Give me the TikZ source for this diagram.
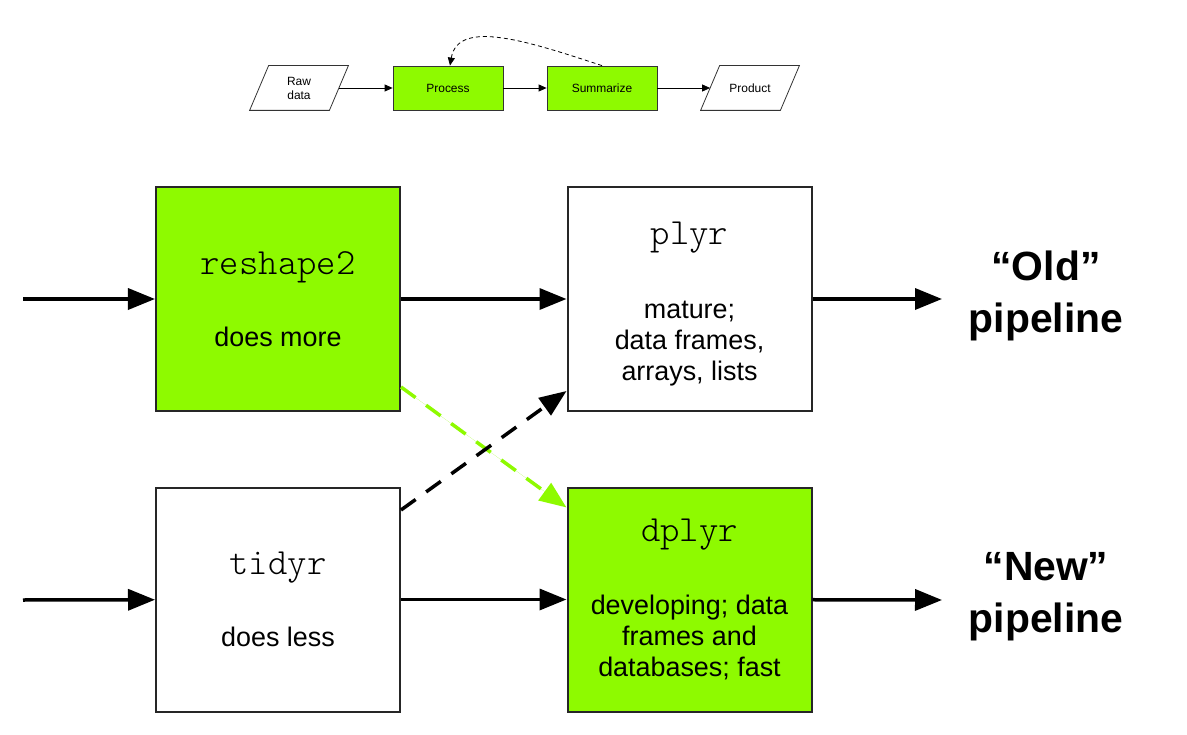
\documentclass[tikz,border=0pt]{standalone}
\usepackage{fontspec}
\setmainfont{Liberation Sans}
\usepackage{tikz}
\usetikzlibrary{arrows.meta, positioning}
\definecolor{lime}{RGB}{142,250,0}
\tikzset{
    stage/.style={draw=black!80, line width=0.8bp, minimum width=110bp, minimum height=44bp, inner sep=0pt, align=center, font=\fontsize{12}{14}\selectfont},
    io/.style={stage, draw=none, minimum width=79bp},
    flow/.style={-{Triangle[length=8bp,width=7bp]}, line width=0.8bp},
    pkg/.style={draw=black!85, line width=2bp, minimum width=244bp, minimum height=224bp, inner sep=0pt, align=center, font=\fontsize{27}{31}\selectfont},
    pipe/.style={-{Triangle[length=27bp,width=21bp]}, line width=3.5bp},
    swap/.style={pipe, dash pattern=on 18bp off 13bp},
    verdict/.style={align=center, font=\fontsize{41}{52}\selectfont\bfseries}
}
\newcommand{\pkgname}[1]{{\ttfamily\fontseries{l}\fontsize{37}{37}\selectfont #1}}

\begin{document}
\begin{tikzpicture}[x=1bp, y=-1bp]
    \useasboundingbox (0,0) rectangle (1187,735);
    \node[io] (raw) at (299,88) {Raw\\data};
    \node[stage, fill=lime] (process) at (448,88) {Process};
    \node[stage, fill=lime] (summarize) at (602,88) {Summarize};
    \node[io] (product) at (750,88) {Product};
    \foreach \n in {raw, product}
        \draw[draw=black!80, line width=0.8bp] ([xshift=-9.5bp]\n.south west) -- ([xshift=9.5bp]\n.north west) -- ([xshift=9.5bp]\n.north east) -- ([xshift=-9.5bp]\n.south east) -- cycle;
    \draw[flow] (raw) -- (process);
    \draw[flow] (process) -- (summarize);
    \draw[flow] (summarize) -- (product);
    \draw[flow, dash pattern=on 4bp off 3bp] (summarize.north) .. controls (530,42) and (458,18) .. ([xshift=2bp]process.north);

    \node[pkg, fill=lime] (reshape) at (278,299) {\pkgname{reshape2}\\[41bp]does more};
    \node[pkg] (plyr) at (689.5,299) {\pkgname{\rule{0pt}{32bp}plyr}\\[43bp]mature;\\data frames,\\arrays, lists};
    \node[pkg] (tidyr) at (278,599.5) {\pkgname{tidyr}\\[41bp]does less};
    \node[pkg, fill=lime] (dplyr) at (689.5,599.5) {\pkgname{dplyr}\\[42bp]developing; data\\frames and\\databases; fast};
    \node[verdict] (old) at (1046,296) {“Old”\\pipeline};
    \node[verdict] (new) at (1046,597) {“New”\\pipeline};

    \coordinate (in1) at (23,299);
    \coordinate (in2) at (23,600);
    \coordinate (out1) at (942,299);
    \coordinate (out2) at (942,600);
    \draw[pipe] (in1) -- (reshape);
    \draw[pipe] (reshape) -- (plyr);
    \draw[pipe] (plyr) -- (out1);
    \draw[pipe] (in2) -- (tidyr);
    \draw[pipe] (tidyr) -- (dplyr);
    \draw[pipe] (dplyr) -- (out2);
    \draw[swap, draw=lime, fill=lime] ([yshift=-88bp]reshape.east) -- ([yshift=-21bp]dplyr.north west);
    \draw[swap] ([yshift=89.5bp]tidyr.east) -- ([yshift=21bp]plyr.south west);
\end{tikzpicture}
\end{document}
